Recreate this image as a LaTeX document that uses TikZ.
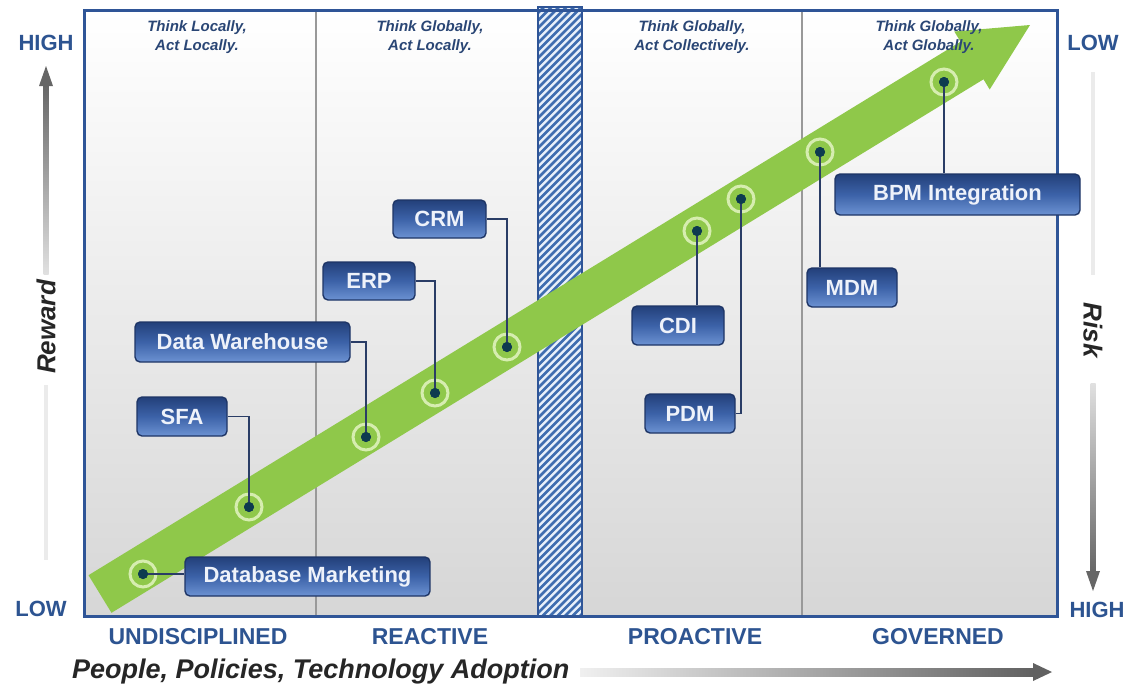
\documentclass[tikz,border=0pt]{standalone}
\usepackage{fontspec}
\setmainfont{Liberation Sans}
\usetikzlibrary{calc}
\definecolor{frameblue}{HTML}{2F5597}
\definecolor{hdrblue}{HTML}{2A4675}
\definecolor{lblblue}{HTML}{2D5491}
\definecolor{arrowgreen}{HTML}{8FC84A}
\definecolor{halogreen}{HTML}{D6EDB0}
\definecolor{dotnavy}{HTML}{0D3B4F}
\definecolor{boxtop}{HTML}{23407A}
\definecolor{boxmid}{HTML}{3C62A8}
\definecolor{boxbot}{HTML}{6C92D2}
\definecolor{boxline}{HTML}{1E3566}
\definecolor{boxtext}{HTML}{EEF2FA}
\definecolor{connnavy}{HTML}{2A3D66}
\definecolor{hatchblue}{HTML}{3F6DB0}
\definecolor{hatchbg}{HTML}{E8F0FA}
\tikzset{
  boxnode/.style={draw=boxline, line width=1.4pt, rounded corners=5pt,
    top color=boxtop, bottom color=boxbot, middle color=boxmid,
    text=boxtext, font=\fontsize{22}{24}\selectfont\bfseries,
    inner sep=0pt, align=center},
  hdr/.style={text=hdrblue, font=\fontsize{15}{19}\selectfont\bfseries\itshape, align=center, inner sep=0pt},
  stage/.style={text=lblblue, font=\fontsize{23}{25}\selectfont\bfseries, inner sep=0pt},
  axislbl/.style={text=lblblue, font=\fontsize{22}{24}\selectfont\bfseries, inner sep=0pt},
  axisword/.style={text=black!85, font=\fontsize{26}{28}\selectfont\bfseries\itshape, inner sep=0pt},
  dotn/.style={circle, fill=dotnavy, inner sep=0pt, minimum size=10pt},
  halo/.style={draw=halogreen, line width=3pt},
  conn/.style={draw=connnavy, line width=1.5pt},
  hatchline/.style={draw=hatchblue, line width=2.6pt},
}
\begin{document}
\begin{tikzpicture}[x=1pt,y=-1pt]
\useasboundingbox (0,0) rectangle (1132,686);
\fill[white] (0,0) rectangle (1132,686);
% background of frame
\shade[top color=white, bottom color=black!16] (84,10) rectangle (1057,616);
% dividers
\draw[black!40, line width=1.2pt] (316,10) -- (316,616);
\draw[black!40, line width=1.2pt] (802,10) -- (802,616);
% hatched bar
\fill[hatchbg] (538,7) rectangle (582,616);
\begin{scope}
\clip (538,7) rectangle (582,616);
\foreach \yy in {0,7.5,...,672}{\draw[hatchline] (536,\yy) -- (584,\yy-48);}
\end{scope}
\draw[frameblue, line width=1.5pt] (538,7) rectangle (582,616);
% green arrow
\fill[arrowgreen] (88.5,575.2) -- (960.5,41.7) -- (954.3,31.5) -- (1030,25)
  -- (989.7,89.5) -- (983.5,79.3) -- (111.5,612.8) -- cycle;
% frame
\draw[frameblue, line width=3pt] (84,10) rectangle (1057,616);
% headers
\node[hdr] (h1) at (197,37.5) {Think Locally,\\Act Locally.};
\node[hdr] (h2) at (430,37.5) {Think Globally,\\Act Locally.};
\node[hdr] (h3) at (692,37.5) {Think Globally,\\Act Collectively.};
\node[hdr] (h4) at (929,37.5) {Think Globally,\\Act Globally.};
% dots
\node[dotn] (d1) at (143,574) {};
\node[dotn] (d2) at (249,507) {};
\node[dotn] (d3) at (366,437) {};
\node[dotn] (d4) at (435,393) {};
\node[dotn] (d5) at (507,347) {};
\node[dotn] (d6) at (697,231) {};
\node[dotn] (d7) at (741,199) {};
\node[dotn] (d8) at (820,152) {};
\node[dotn] (d9) at (944,82) {};
\foreach \d in {d1,d2,d3,d4,d5,d6,d7,d8,d9}{\draw[halo] (\d) circle (13pt);}
% boxes
\node[boxnode, minimum width=245pt, minimum height=39pt] (b1) at (307.5,576.5) {Database Marketing};
\node[boxnode, minimum width=90pt, minimum height=39pt] (b2) at (182,416.5) {SFA};
\node[boxnode, minimum width=215pt, minimum height=40pt] (b3) at (242.5,342) {Data Warehouse};
\node[boxnode, minimum width=92pt, minimum height=38pt] (b4) at (369,281) {ERP};
\node[boxnode, minimum width=93pt, minimum height=38pt] (b5) at (439.5,219) {CRM};
\node[boxnode, minimum width=92pt, minimum height=39pt] (b6) at (678,325.5) {CDI};
\node[boxnode, minimum width=90pt, minimum height=39pt] (b7) at (690,413.5) {PDM};
\node[boxnode, minimum width=90pt, minimum height=39pt] (b8) at (852,287.5) {MDM};
\node[boxnode, minimum width=245pt, minimum height=41pt] (b9) at (957.5,194.5) {BPM Integration};
% connectors
\draw[conn] (d1.center) -- (d1.center -| b1.west);
\draw[conn] (b2.east) -| (d2.center);
\draw[conn] (b3.east) -| (d3.center);
\draw[conn] (b4.east) -| (d4.center);
\draw[conn] (b5.east) -| (d5.center);
\draw[conn] (d6.center) -- (d6.center |- b6.north);
\draw[conn] (b7.east) -| (d7.center);
\draw[conn] (d8.center) -- (d8.center |- b8.north);
\draw[conn] (d9.center) -- (d9.center |- b9.north);
% redraw dots on top of connectors
\foreach \d in {d1,d2,d3,d4,d5,d6,d7,d8,d9}{\fill[dotnavy] (\d) circle (5pt);}
% stage labels
\node[stage] (s1) at (198,637) {UNDISCIPLINED};
\node[stage] (s2) at (430,637) {REACTIVE};
\node[stage] (s3) at (695,637) {PROACTIVE};
\node[stage] (s4) at (938,637) {GOVERNED};
% axis labels
\node[axislbl] (lh) at (46,43) {HIGH};
\node[axislbl] (ll) at (41,609) {LOW};
\node[axislbl] (rl) at (1093,43) {LOW};
\node[axislbl] (rh) at (1097,610) {HIGH};
\node[axisword, rotate=90] (rw) at (46,327) {Reward};
\node[axisword, rotate=-90] (rk) at (1093,330) {Risk};
% left axis arrow
\shade[top color=black!60, bottom color=black!12] (43.5,84) rectangle (48.5,274);
\fill[black!60] (46,66) -- (53,86) -- (39,86) -- cycle;
\fill[black!8] (44,385) rectangle (48,560);
% right axis arrow
\fill[black!8] (1091,72) rectangle (1095,275);
\shade[top color=black!12, bottom color=black!60] (1090.5,383) rectangle (1095.5,572);
\fill[black!60] (1093,591) -- (1100,571) -- (1086,571) -- cycle;
% bottom
\node[axisword, font=\fontsize{27}{29}\selectfont\bfseries\itshape, anchor=west] (bx) at (72,672) {People, Policies, Technology Adoption};
\shade[left color=black!6, right color=black!62] (580,668) rectangle (1034,676);
\fill[black!62] (1052,672) -- (1033,663) -- (1033,681) -- cycle;
\end{tikzpicture}
\end{document}
